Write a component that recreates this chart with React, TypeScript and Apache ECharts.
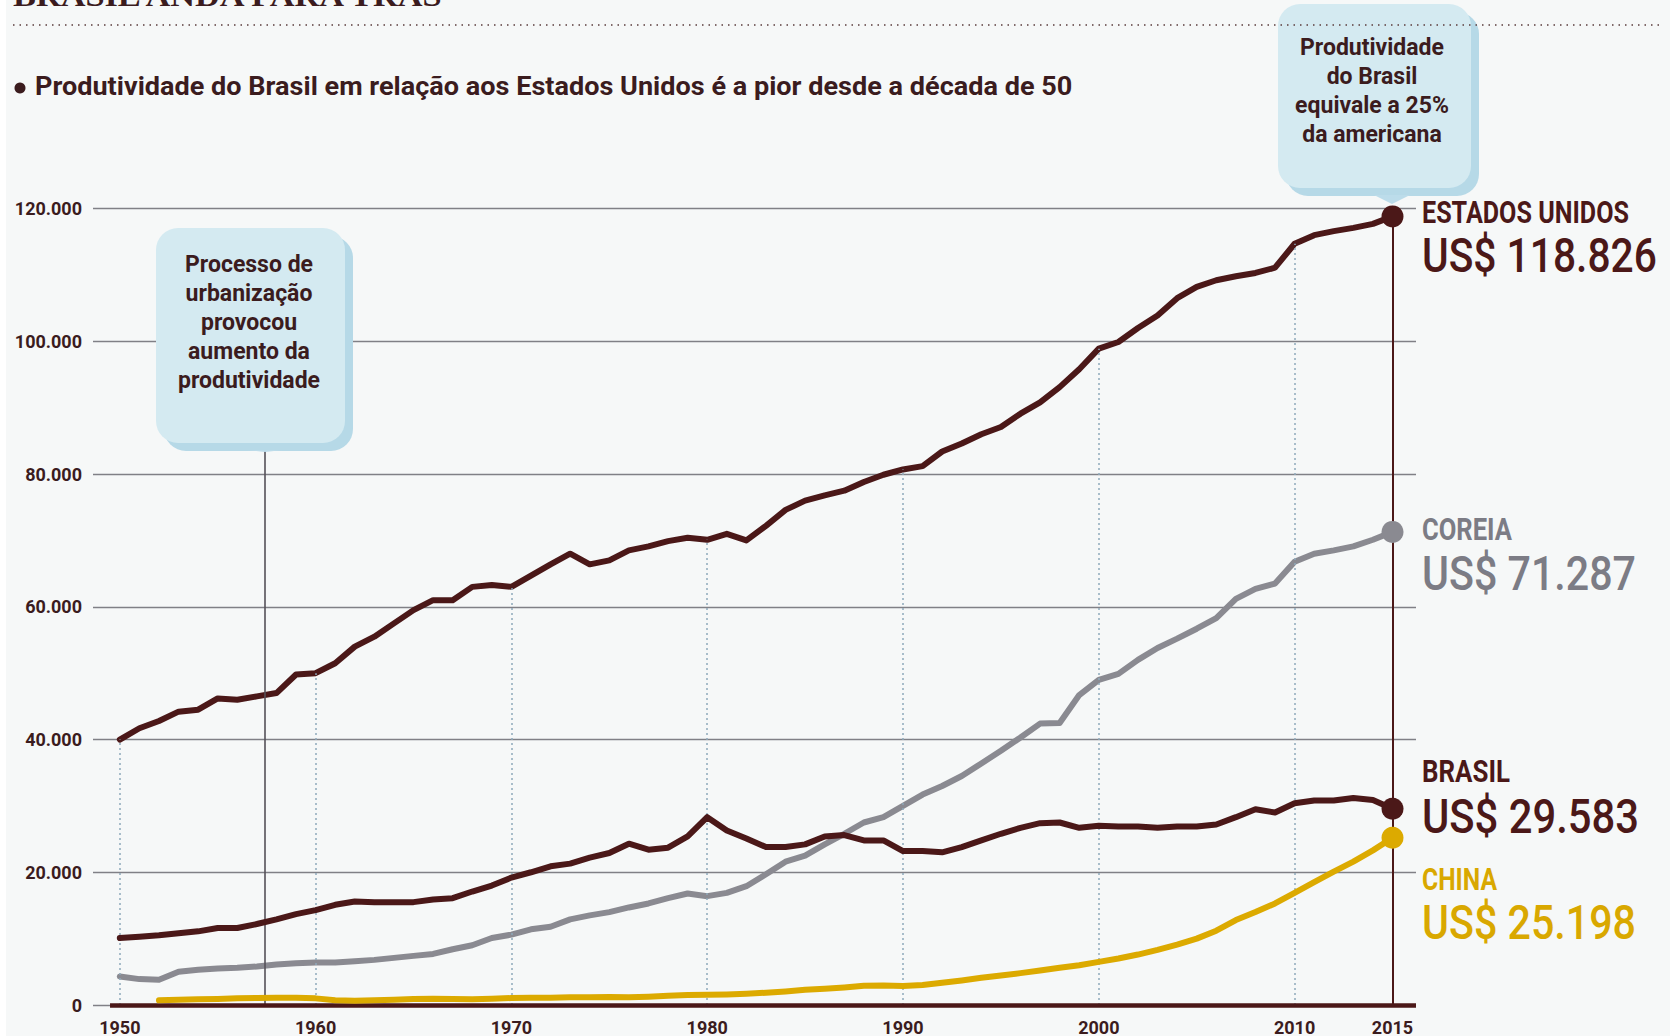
import React, { useEffect, useRef } from "react";
import * as echarts from "echarts";

// ---------- DATA ----------
const years = Array.from({ length: 66 }, (_, i) => 1950 + i);

const usValues = [
  40000, 41700, 42800, 44200, 44500, 46200, 46000, 46500, 47000, 49800,
  50000, 51500, 54000, 55500, 57500, 59500, 61000, 61000, 63000, 63300,
  63000, 64700, 66400, 68000, 66400, 67000, 68500, 69100, 69900, 70400,
  70100, 71000, 70000, 72200, 74600, 76000, 76800, 77500, 78800, 79900,
  80700, 81200, 83400, 84600, 86000, 87100, 89100, 90800, 93100, 95800,
  98900, 99900, 102000, 103900, 106500, 108200, 109200, 109800, 110300, 111100,
  114700, 116000, 116600, 117100, 117700, 118826,
];

const koreaValues = [
  4300, 3900, 3800, 5000, 5300, 5500, 5600, 5800, 6100, 6300,
  6400, 6400, 6600, 6800, 7100, 7400, 7700, 8400, 9000, 10100,
  10600, 11400, 11800, 12900, 13500, 14000, 14700, 15300, 16100, 16800,
  16400, 16900, 17900, 19700, 21600, 22500, 24200, 25800, 27500, 28300,
  30000, 31700, 33000, 34500, 36400, 38300, 40300, 42400, 42500, 46700,
  49000, 49900, 52000, 53800, 55200, 56700, 58300, 61200, 62700, 63500,
  66800, 68000, 68500, 69100, 70100, 71287,
];

const brazilValues = [
  10100, 10300, 10500, 10800, 11100, 11600, 11600, 12200, 12900, 13700,
  14300, 15100, 15600, 15500, 15500, 15500, 15900, 16100, 17100, 18000,
  19200, 20000, 20900, 21300, 22200, 22900, 24300, 23400, 23700, 25400,
  28300, 26300, 25100, 23800, 23800, 24200, 25400, 25600, 24800, 24800,
  23200, 23200, 23000, 23800, 24800, 25800, 26700, 27400, 27500, 26700,
  27000, 26900, 26900, 26700, 26900, 26900, 27200, 28300, 29500, 29000,
  30400, 30800, 30800, 31200, 30900, 29583,
];

const chinaValues = [
  null, null, 700, 800, 850, 900, 1000, 1050, 1100, 1100,
  1000, 700, 650, 700, 800, 900, 950, 900, 850, 950,
  1050, 1100, 1100, 1150, 1150, 1200, 1150, 1250, 1400, 1500,
  1550, 1600, 1700, 1850, 2050, 2300, 2450, 2650, 2900, 2950,
  2850, 3000, 3350, 3700, 4100, 4450, 4800, 5200, 5600, 6000,
  6500, 7000, 7600, 8300, 9100, 10000, 11200, 12800, 14000, 15300,
  16900, 18500, 20100, 21600, 23300, 25198,
];

const xTickLabels = [1950, 1960, 1970, 1980, 1990, 2000, 2010, 2015];
const decadeLines = [1950, 1960, 1970, 1980, 1990, 2000, 2010];
const urbanizationYear = 1957.4;
const urbanizationLineTop = 84000;
const lastYear = 2015;

const titleText = "BRASIL ANDA PARA TRÁS";
const subtitleText =
  "Produtividade do Brasil em relação aos Estados Unidos é a pior desde a década de 50";
const noteUrbanization = [
  "Processo de",
  "urbanização",
  "provocou",
  "aumento da",
  "produtividade",
];
const noteBrasil = ["Produtividade", "do Brasil", "equivale a 25%", "da americana"];

const countryNames = ["ESTADOS UNIDOS", "COREIA", "BRASIL", "CHINA"];

// ---------- STYLE ----------
const C_BROWN = "#4b1818";
const C_GREY = "#8a8a91";
const C_GOLD = "#dcaa00";
const C_TEXT = "#3b1c1e";
const BG = "#f6f8f8";
const FONT = "Roboto, 'DejaVu Sans', sans-serif";

const fmt = (v: number) =>
  Math.round(v)
    .toString()
    .replace(/\B(?=(\d{3})+(?!\d))/g, ".");

let measureCtx: CanvasRenderingContext2D | null = null;
function textWidth(text: string, font: string) {
  if (!measureCtx) measureCtx = document.createElement("canvas").getContext("2d");
  measureCtx!.font = font;
  return measureCtx!.measureText(text).width;
}
function fitText(
  text: string,
  x: number,
  y: number,
  size: number,
  weight: string | number,
  color: string,
  target: number,
  family = FONT
) {
  const w = textWidth(text, `${weight} ${size}px ${family}`);
  return {
    type: "text",
    x,
    y,
    scaleX: w > 0 ? target / w : 1,
    z: 120,
    silent: true,
    style: {
      text,
      fill: color,
      fontSize: size,
      fontWeight: weight,
      fontFamily: family,
      align: "left",
      verticalAlign: "middle",
    },
  };
}

function noteBox(
  lines: string[],
  rx: number,
  ry: number,
  rw: number,
  rh: number,
  tipX: number,
  tipY: number,
  cx: number,
  cy: number
) {
  return {
    type: "group",
    z: 110,
    silent: true,
    children: [
      {
        type: "rect",
        shape: { x: rx + 8, y: ry + 8, width: rw, height: rh, r: 22 },
        style: { fill: "#b6d9e7" },
        z: 110,
      },
      {
        type: "rect",
        shape: { x: rx, y: ry, width: rw, height: rh, r: 22 },
        style: { fill: "#d4eaf1" },
        z: 111,
      },
      {
        type: "polygon",
        shape: {
          points: [
            [tipX - 18, ry + rh + 7],
            [tipX + 18, ry + rh + 7],
            [tipX, tipY],
          ],
        },
        style: { fill: "#bcdcea" },
        z: 110,
      },
      {
        type: "text",
        x: cx,
        y: cy,
        z: 112,
        style: {
          text: lines.join("\n"),
          fill: C_TEXT,
          fontSize: 23,
          fontWeight: "bold",
          fontFamily: FONT,
          align: "center",
          verticalAlign: "middle",
          lineHeight: 29,
        },
      },
    ],
  };
}

export default function App() {
  const ref = useRef<HTMLDivElement>(null);

  useEffect(() => {
    if (!ref.current) return;
    document.body.style.margin = "0";
    const chart = echarts.init(ref.current, undefined, { renderer: "svg" });

    const pair = (arr: (number | null)[]) => years.map((y, i) => [y, arr[i]]);
    const last = (arr: (number | null)[]) => arr[arr.length - 1] as number;

    const seriesDefs = [
      { name: countryNames[0], data: usValues, color: C_BROWN },
      { name: countryNames[1], data: koreaValues, color: C_GREY },
      { name: countryNames[2], data: brazilValues, color: C_BROWN },
      { name: countryNames[3], data: chinaValues, color: C_GOLD },
    ];

    const markLines: any[] = [];
    decadeLines.forEach((yr) => {
      markLines.push([
        {
          coord: [yr, 0],
          lineStyle: { color: "#8fa9ba", width: 1.5, type: [2, 3] },
        },
        { coord: [yr, usValues[yr - 1950]] },
      ]);
    });
    markLines.push([
      { coord: [urbanizationYear, 0], lineStyle: { color: "#555158", width: 1.6, type: "solid" } },
      { coord: [urbanizationYear, urbanizationLineTop] },
    ]);
    markLines.push([
      { coord: [lastYear, 0], lineStyle: { color: C_BROWN, width: 2, type: "solid" } },
      { coord: [lastYear, last(usValues)] },
    ]);
    markLines.push([
      { coord: [1949.5, 0], lineStyle: { color: C_BROWN, width: 4.5, type: "solid" } },
      { coord: [2016.2, 0] },
    ]);

    const endLabelPos = [
      { ny: 213, nw: 207, vy: 256, vw: 235 },
      { ny: 530, nw: 90, vy: 574, vw: 214 },
      { ny: 772, nw: 88, vy: 816, vw: 217 },
      { ny: 879, nw: 75, vy: 923, vw: 214 },
    ];
    const labelColors = [C_BROWN, "#7c7c85", C_BROWN, "#d9a800"];

    const graphics: any[] = [
      {
        type: "rect",
        silent: true,
        shape: { x: 0, y: 0, width: 6, height: 1036 },
        style: { fill: "#ffffff" },
        z: 130,
      },
      {
        type: "rect",
        silent: true,
        shape: { x: 1670, y: 0, width: 7, height: 1036 },
        style: { fill: "#ffffff" },
        z: 130,
      },
      fitText(titleText, 13, -4.5, 30, "bold", C_TEXT, 437, "'Liberation Serif', 'DejaVu Serif', serif"),
      {
        type: "line",
        silent: true,
        shape: { x1: 13, y1: 25, x2: 1663, y2: 25 },
        style: { stroke: "#5a3b3b", lineWidth: 1.5, lineDash: [1.5, 5] },
        z: 120,
      },
      {
        type: "circle",
        silent: true,
        shape: { cx: 20, cy: 88, r: 5.5 },
        style: { fill: C_TEXT },
        z: 120,
      },
      fitText(subtitleText, 35, 86, 25, "bold", C_TEXT, 1038),
      noteBox(noteUrbanization, 156, 228, 189, 215, 265, 452, 249, 322),
      noteBox(noteBrasil, 1278, 4, 193, 184, 1392, 204, 1372, 91),
    ];
    seriesDefs.forEach((s, i) => {
      const p = endLabelPos[i];
      graphics.push(fitText(s.name, 1422, p.ny, 31, "bold", labelColors[i], p.nw));
      graphics.push(
        fitText("US$ " + fmt(last(s.data)), 1422, p.vy, 48, 500, labelColors[i], p.vw)
      );
    });

    const option: any = {
      animation: false,
      backgroundColor: BG,
      grid: { left: 93, right: 261, top: 208.6, bottom: 30.7, containLabel: false },
      xAxis: {
        type: "value",
        min: 1948.63,
        max: 2016.2,
        axisLine: { show: false },
        axisTick: { show: false },
        splitLine: { show: false },
        axisLabel: {
          customValues: xTickLabels,
          formatter: (v: number) => String(v),
          color: C_TEXT,
          fontFamily: FONT,
          fontWeight: "bold",
          fontSize: 18,
          margin: 13,
        },
      },
      yAxis: {
        type: "value",
        min: 0,
        max: 120000,
        interval: 20000,
        axisLine: { show: false },
        axisTick: { show: false },
        splitLine: { show: true, lineStyle: { color: "#808086", width: 1.4 } },
        axisLabel: {
          formatter: (v: number) => fmt(v),
          color: C_TEXT,
          fontFamily: FONT,
          fontWeight: "bold",
          fontSize: 18,
          margin: 11,
        },
      },
      graphic: graphics,
      series: [
        {
          type: "line",
          name: "guides",
          data: [],
          z: 1,
          silent: true,
          markLine: {
            silent: true,
            symbol: ["none", "none"],
            label: { show: false },
            emphasis: { disabled: true },
            data: markLines,
          },
        },
        ...seriesDefs.map((s, i) => ({
          type: "line",
          name: s.name,
          data: pair(s.data),
          symbol: "none",
          connectNulls: false,
          z: 3 + i,
          lineStyle: { color: s.color, width: 6, join: "round", cap: "round" },
          itemStyle: { color: s.color },
        })),
        ...seriesDefs.map((s, i) => ({
          type: "scatter",
          name: s.name + " fim",
          data: [[lastYear, last(s.data)]],
          symbol: "circle",
          symbolSize: 22,
          z: 10 + i,
          itemStyle: { color: s.color, opacity: 1 },
        })),
      ],
    };

    chart.setOption(option);
    return () => chart.dispose();
  }, []);

  return (
    <div
      ref={ref}
      style={{
        position: "absolute",
        left: 0,
        top: 0,
        width: 1677,
        height: 1036,
        background: BG,
      }}
    />
  );
}
